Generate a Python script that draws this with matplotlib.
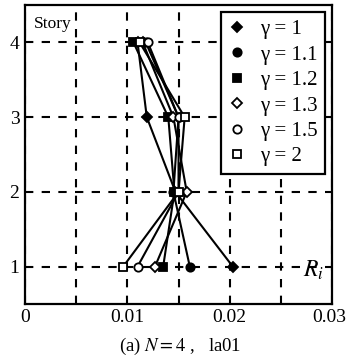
import numpy as np
import matplotlib.pyplot as plt
import matplotlib.transforms as mtransforms

plt.rcParams['font.family'] = ['Liberation Serif', 'DejaVu Serif']
plt.rcParams['mathtext.fontset'] = 'stix'

stories = [1, 2, 3, 4]

# story drift ratio R_i for each gamma, stories 1..4
r_g10 = [0.0203, 0.0147, 0.0119, 0.0110]
r_g11 = [0.0161, 0.0145, 0.0150, 0.0118]
r_g12 = [0.0135, 0.0146, 0.0140, 0.0106]
r_g13 = [0.0127, 0.0158, 0.0145, 0.0115]
r_g15 = [0.0110, 0.0150, 0.0150, 0.0120]
r_g20 = [0.0096, 0.0150, 0.0156, 0.0112]

labels = ['γ = 1', 'γ = 1.1', 'γ = 1.2', 'γ = 1.3', 'γ = 1.5', 'γ = 2']
series = [r_g10, r_g11, r_g12, r_g13, r_g15, r_g20]
markers = ['D', 'o', 's', 'D', 'o', 's']
filled = [True, True, True, False, False, False]
sizes = [5, 6, 5.5, 5, 6, 5.5]

fig = plt.figure(figsize=(3.46, 3.64), dpi=100)
ax = fig.add_axes([0.072, 0.165, 0.888, 0.821])

for r, lab, m, f, s in zip(series, labels, markers, filled, sizes):
    ax.plot(r, stories, color='black', lw=1.5, marker=m, ms=s,
            mfc='black' if f else 'white', mec='black', mew=1.3, label=lab)

ax.set_xlim(0, 0.03)
ax.set_ylim(0.5, 4.5)

ax.set_xticks([0, 0.01, 0.02, 0.03])
ax.set_xticklabels(['0', '0.01', '0.02', '0.03'])
ax.set_xticks([0.005, 0.015, 0.025], minor=True)
ax.set_yticks(stories)
ax.tick_params(which='both', length=0, labelsize=14, pad=4)

# keep the last x label inside the figure
last = ax.get_xticklabels()[-1]
last.set_transform(last.get_transform() +
                   mtransforms.ScaledTranslation(-3 / 100, 0, fig.dpi_scale_trans))

ax.grid(True, which='both', color='black', ls=(0, (4, 4)), lw=1.5)
for sp in ax.spines.values():
    sp.set_linewidth(1.6)

ax.text(0.03, 0.965, 'Story', transform=ax.transAxes, fontsize=12.5,
        ha='left', va='top')
ax.text(0.975, 0.075, '$R_i$', transform=ax.transAxes, fontsize=17,
        ha='right', va='bottom')

# legend with markers only
leg_handles = []
for m, f, s in zip(markers, filled, sizes):
    h, = ax.plot([], [], ls='none', marker=m, ms=s, color='black',
                 mfc='black' if f else 'white', mec='black', mew=1.3)
    leg_handles.append(h)
leg = ax.legend(leg_handles, labels, loc='upper right', fontsize=15,
                frameon=True, fancybox=False, edgecolor='black',
                handlelength=0.8, handletextpad=0.7, borderpad=0.35,
                labelspacing=0.28, borderaxespad=0.35)
leg.get_frame().set_linewidth(1.6)
leg.get_frame().set_alpha(1)

fig.text(0.52, 0.02, '(a) $N = 4$ ,   la01', ha='center', va='bottom',
         fontsize=13.5)

fig.savefig('out.png', dpi=100)
